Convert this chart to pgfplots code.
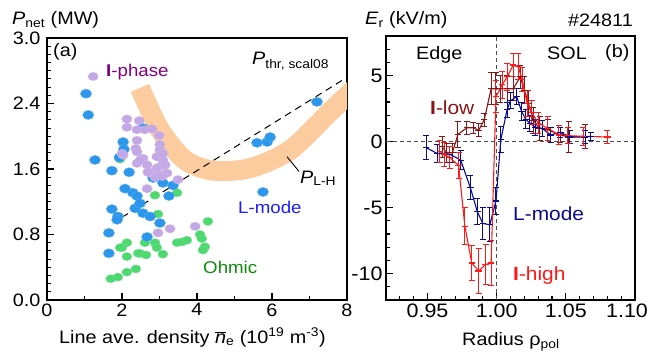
\documentclass[border=0pt]{standalone}
\usepackage{fontspec}
\setmainfont{Liberation Sans}[FakeStretch=1.1]
\usepackage{pgfplots}
\usepackage{pgfplotstable}
\pgfplotsset{compat=1.18}
\definecolor{cblue}{RGB}{45,152,235}
\definecolor{cpurp}{RGB}{196,168,230}
\definecolor{cgreen}{RGB}{78,216,112}
\definecolor{cband}{RGB}{253,204,158}
\definecolor{tpurp}{RGB}{128,0,128}
\definecolor{tblue}{RGB}{30,30,250}
\definecolor{tgreen}{RGB}{10,140,10}
\definecolor{cnavy}{RGB}{10,10,140}
\definecolor{cdred}{RGB}{140,20,20}
\definecolor{cred}{RGB}{255,25,25}

\pgfplotstableread{
x y e
0.949 -0.45 0.9
0.957 -0.9 0.7
0.966 -0.95 0.6
0.974 -1.4 0.7
0.981 -3.5 0.9
0.986 -5.3 1.0
0.990 -6.2 1.2
0.995 -6.3 1.3
0.9995 -4.5 1.0
1.003 0.15 1.0
1.0075 2.4 0.6
1.010 3.1 0.6
1.0145 3.4 0.6
1.018 2.3 0.7
1.021 1.7 0.7
1.024 1.4 0.6
1.028 1.1 0.6
1.033 1.0 0.6
1.039 0.5 0.6
1.046 0.7 0.4
1.053 0.35 0.5
1.064 0.35 0.5
1.068 0.4 0.3
}\Lmode

\pgfplotstableread{
x y e
0.959 -0.75 0.8
0.962 -1.0 0.9
0.966 -1.2 0.8
0.9725 -1.8 1.0
0.977 -6.4 1.4
0.982 -9.2 1.3
0.987 -9.8 1.7
0.992 -9.3 1.5
0.996 -9.2 1.7
0.9995 3.4 1.2
1.004 4.3 1.0
1.0075 4.9 1.0
1.012 5.8 0.9
1.0155 5.7 1.0
1.0185 4.7 0.9
1.022 2.9 1.0
1.0255 2.2 0.9
1.030 1.4 0.8
1.037 1.0 0.9
1.045 0.5 0.7
1.0515 0.45 0.6
1.0625 0.4 0.7
1.080 0.35 0.5
}\Ihigh

\pgfplotstableread{
x y e
0.9605 -0.4 0.8
0.964 -0.85 0.7
0.968 -0.85 0.7
0.972 0.55 1.0
0.9785 1.05 0.5
0.983 1.05 0.4
0.987 0.85 0.5
0.991 1.65 0.5
0.996 4.0 1.2
0.9995 4.0 1.2
1.0025 4.0 1.0
1.0075 4.0 1.0
1.012 4.0 0.9
1.017 4.9 0.9
1.020 3.9 1.0
1.023 2.9 1.0
1.0265 1.6 1.0
1.031 1.0 0.9
1.037 0.9 0.8
1.046 0.5 0.6
1.052 0.35 1.2
1.064 0.4 0.9
}\Ilow

\pgfplotsset{
  myax/.style={scale only axis, anchor=south west,
    axis line style={line width=1.5pt},
    tick style={line width=1.1pt, black},
    major tick length=7pt, minor tick length=4pt,
    tick align=inside, xtick pos=left, ytick pos=left,
    /pgf/number format/assume math mode=true},
  dots/.style={only marks, mark=*, mark size=#1, mark options={yscale=0.82}},
  erb/.style={#1, line width=1.1pt, mark=-, mark size=3.2pt,
    error bars/.cd, y dir=both, y explicit,
    error bar style={line width=1.0pt, #1},
    error mark=|, error mark options={line width=1.0pt, mark size=3pt, #1}}
}

\begin{document}
\begin{tikzpicture}[font=\fontsize{18}{21}\selectfont]
\useasboundingbox (0,0) rectangle (648pt,354pt);
% ---------------- left panel
\begin{axis}[myax, at={(47pt,54pt)}, width=300pt, height=262pt,
  xmin=0, xmax=8, ymin=0, ymax=3.2,
  xtick={0,2,4,6,8}, minor xtick={1,3,5,7},
  ytick={0,0.8,1.6,2.4,3.2}, yticklabels={0.0,0.8,1.6,2.4,3.0},
  minor ytick={0.1,0.2,...,3.15},
  tick label style={font=\fontsize{18}{20}\selectfont},
  yticklabel style={xshift=-3pt}]
\addplot[cband, line width=20pt, smooth, line cap=butt] coordinates {
  (2.48,2.59) (3.01,2.08) (3.68,1.71) (4.43,1.58) (5.41,1.61) (6.48,1.83) (7.55,2.30) (8.2,2.58)};
\addplot[black, line width=1pt, dash pattern=on 7pt off 5pt] coordinates {(2,1.01) (8,2.72)};
\addplot[dots=5pt, fill=cgreen, draw=cgreen!80!white, line width=0.3pt] coordinates {
 (1.95,1.72) (2.88,1.28) (3.47,1.31) (2.96,1.05) (4.29,0.96) (2.13,0.70) (2.00,0.64) (1.95,0.64)
 (2.43,0.57) (2.48,0.57) (2.64,0.55) (2.61,0.70) (2.88,0.70) (2.93,0.64) (3.09,0.56) (2.13,0.53)
 (3.47,0.70) (3.60,0.71) (3.73,0.73) (4.08,0.80) (4.13,0.75) (4.21,0.65) (4.16,0.61)
 (1.70,0.26) (1.89,0.28) (2.13,0.34) (2.37,0.38)};
\addplot[dots=5.6pt, fill=cblue, draw=cblue!80!white, line width=0.3pt] coordinates {
 (1.04,2.52) (1.10,2.26) (1.28,1.71) (1.73,1.58) (2.03,1.93) (2.05,1.84) (1.93,1.74) (2.19,1.56)
 (2.56,2.10) (2.83,1.49) (3.09,1.43) (3.36,1.40) (3.25,1.27) (2.29,1.31) (2.40,1.27) (2.08,1.36)
 (1.73,1.11) (2.35,1.12) (2.48,1.18) (2.56,1.06) (2.75,1.02) (1.89,1.02) (1.87,0.98) (3.01,0.94)
 (1.65,0.82) (2.67,0.77) (1.65,0.57) (5.76,1.32) (5.60,1.92) (5.87,1.93) (5.95,1.99) (7.20,2.42)};
\addplot[dots=5.2pt, fill=cpurp, draw=cpurp!80!white, line width=0.3pt] coordinates {
 (1.23,2.73) (2.13,2.21) (2.13,2.11) (2.46,2.19) (2.40,2.08) (2.61,2.08) (2.80,2.09) (2.99,2.01)
 (3.01,1.90) (2.40,1.95) (2.37,1.85) (2.56,1.73) (2.40,1.67) (2.48,1.71) (2.67,1.65) (2.93,1.75)
 (3.09,1.71) (3.12,1.64) (3.01,1.63) (3.15,1.65) (2.80,1.55) (3.01,1.53) (3.20,1.55) (2.75,1.56)
 (2.88,1.50) (3.07,1.51) (3.49,1.47) (2.67,1.36) (2.03,1.77) (2.00,1.79) (2.40,1.81) (2.96,0.82)
 (3.28,0.87) (3.95,0.90) (3.01,1.83) (3.09,1.79) (2.93,1.61) (2.69,1.56)};
\draw[black, line width=0.9pt] (axis cs:6.4,1.75) -- (axis cs:6.72,1.57);
\end{axis}
% ---------------- right panel
\begin{axis}[myax, at={(386pt,54pt)}, width=249pt, height=264pt,
  xmin=0.92, xmax=1.10, ymin=-12, ymax=8,
  xtick={0.95,1.00,1.05,1.10},
  xticklabels={0.95,1.00,1.05,\makebox[0pt]{\hspace*{-16pt}1.10}},
  minor xtick={0.93,0.94,0.96,0.97,0.98,0.99,1.01,1.02,1.03,1.04,1.06,1.07,1.08,1.09},
  ytick={-10,-5,0,5},
  minor ytick={-11,-9,-8,-7,-6,-4,-3,-2,-1,1,2,3,4,6,7},
  tick label style={font=\fontsize{19.5}{22}\selectfont}]
\addplot[black!70, line width=0.8pt, dash pattern=on 4pt off 3pt] coordinates {(0.92,0) (1.10,0)};
\addplot[black!70, line width=0.8pt, dash pattern=on 4pt off 3pt] coordinates {(1.0,-12) (1.0,8)};
\addplot[erb=cdred] table[x=x, y=y, y error=e] {\Ilow};
\addplot[erb=cnavy] table[x=x, y=y, y error=e] {\Lmode};
\addplot[erb=cred] table[x=x, y=y, y error=e] {\Ihigh};
\end{axis}
% ---------------- texts
\node[anchor=base west, inner sep=0] at (12pt,329pt) {\textit{P}\textsubscript{net} (MW)};
\node[anchor=base west, inner sep=0] at (53pt,297pt) {(a)};
\node[anchor=base west, inner sep=0, text=tpurp, font=\fontsize{17}{20}\selectfont] at (106pt,277pt) {\textbf{I}-phase};
\node[anchor=base west, inner sep=0] at (252pt,289pt) {\textit{P}\textsubscript{thr, scal08}};
\node[anchor=base west, inner sep=0] at (300pt,171pt) {\textit{P}\textsubscript{L-H}};
\node[anchor=base west, inner sep=0, text=tblue, font=\fontsize{17}{20}\selectfont] at (238pt,141pt) {L-mode};
\node[anchor=base west, inner sep=0, text=tgreen, font=\fontsize{17}{20}\selectfont] at (203pt,81pt) {Ohmic};
\node[anchor=base west, inner sep=0] at (59pt,11pt) {Line ave. density $\overline{\mbox{\textit{n}}}$\textsubscript{e} (10\textsuperscript{19} m\textsuperscript{-3})};
\node[anchor=base west, inner sep=0] at (365pt,329pt) {\textit{E}\textsubscript{r} (kV/m)};
\node[anchor=base east, inner sep=0] at (633pt,327pt) {\#24811};
\node[anchor=base west, inner sep=0] at (416pt,294pt) {Edge};
\node[anchor=base west, inner sep=0] at (547pt,294pt) {SOL};
\node[anchor=base west, inner sep=0] at (605pt,296pt) {(b)};
\node[anchor=base west, inner sep=0, text=cdred, font=\fontsize{19}{22}\selectfont] at (430pt,239pt) {\textbf{I}-low};
\node[anchor=base west, inner sep=0, text=cnavy, font=\fontsize{19}{22}\selectfont] at (513pt,134pt) {L-mode};
\node[anchor=base west, inner sep=0, text=cred, font=\fontsize{19}{22}\selectfont] at (513pt,74pt) {\textbf{I}-high};
\node[anchor=base west, inner sep=0] at (462pt,9pt) {Radius ρ\textsubscript{pol}};
\end{tikzpicture}
\end{document}
